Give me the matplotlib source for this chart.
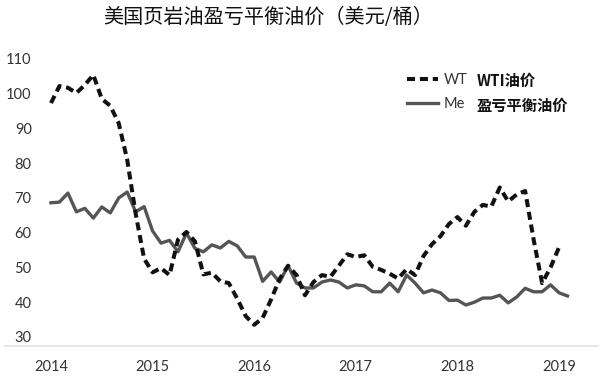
import numpy as np
import matplotlib
matplotlib.use("Agg")
import matplotlib.pyplot as plt
from matplotlib.lines import Line2D

plt.rcParams['font.family'] = ['Lato', 'Noto Sans CJK SC', 'DejaVu Sans']

# monthly values, Jan 2014 onward
wti = [97.3, 102.2, 101.7, 100.2, 102.5, 105.4, 98.5, 96.5, 91.5, 81,
       65.5, 52.5, 48.6, 49.8, 47.8, 58, 60.2, 57.5, 48, 48.5,
       46, 45.5, 41, 36, 33.5, 35.5, 40.8, 46.7, 50.5, 47.8,
       42, 45.8, 47.8, 47.3, 50.5, 53.8, 53, 53.5, 50.2, 49.3,
       48.2, 46.8, 49.5, 47.8, 53.3, 56.7, 59, 62.5, 64.5, 62,
       66, 68, 67.5, 73, 69, 71, 72, 58, 45.5, 50,
       55.8]
breakeven = [68.6, 68.8, 71.4, 66, 67, 64.2, 67.4, 65.7, 70, 71.7,
             66, 67.5, 60.5, 57, 57.8, 54.5, 59.9, 55.5, 54.5, 56.5,
             55.6, 57.5, 56.2, 53, 53, 46, 48.7, 45.8, 50.5, 45.5,
             44.1, 44.1, 45.8, 46.4, 45.8, 44.1, 45, 44.7, 43, 43,
             45.5, 43, 47.8, 45.5, 42.7, 43.5, 42.7, 40.5, 40.6, 39.2,
             40, 41.2, 41.2, 42, 39.8, 41.5, 44, 43, 43, 45,
             42.7, 41.8]
years = [2014, 2015, 2016, 2017, 2018, 2019]
yticks = [30, 40, 50, 60, 70, 80, 90, 100, 110]

x_wti = 2014 + np.arange(len(wti)) / 12
x_be = 2014 + np.arange(len(breakeven)) / 12

fig = plt.figure(figsize=(6, 3.79), dpi=100)
ax = fig.add_axes([40 / 600, 33 / 379, 555 / 600, 301 / 379])

ax.plot(x_be, breakeven, color='#555555', lw=2.4, label='Me')
ax.plot(x_wti, wti, color='#111111', lw=2.9, linestyle=(0, (2.0, 1.2)), label='WT')

ax.set_xlim(2013.892, 2019.354)
ax.set_ylim(27.4, 114)
ax.set_xticks(years)
ax.set_xticklabels([str(y) for y in years])
ax.set_yticks(yticks)
ax.tick_params(axis='both', length=0, labelsize=10.5, labelcolor='#333333')
ax.tick_params(axis='x', pad=10)
ax.tick_params(axis='y', pad=6)
for s in ['top', 'right', 'left', 'bottom']:
    ax.spines[s].set_visible(False)

# light baseline across the figure
fig.add_artist(Line2D([5 / 600, 598 / 600], [33 / 379, 33 / 379],
                      color='#e2e2e2', lw=1.2, transform=fig.transFigure))

fig.text(268 / 600, 1 - 18 / 379, '美国页岩油盈亏平衡油价（美元/桶）',
         ha='center', va='center', fontsize=14.5, fontweight='medium', color='#111111',
         family=['Noto Sans CJK SC', 'DejaVu Sans'])

handles, labels = ax.get_legend_handles_labels()
leg = ax.legend(handles[::-1], labels[::-1], loc='upper left',
                bbox_to_anchor=(407 / 600, 1 - 73 / 379), bbox_transform=fig.transFigure,
                frameon=False, fontsize=10.5, handlelength=2.1, handletextpad=0.4,
                labelspacing=0.7, borderpad=0, borderaxespad=0)
for t in leg.get_texts():
    t.set_color('#333333')

fig.text(477 / 600, 1 - 81 / 379, 'WTI油价', ha='left', va='center', fontsize=11,
         fontweight='bold', color='#111111', family=['Noto Sans CJK SC', 'DejaVu Sans'])
fig.text(477 / 600, 1 - 106 / 379, '盈亏平衡油价', ha='left', va='center', fontsize=11,
         fontweight='bold', color='#111111', family=['Noto Sans CJK SC', 'DejaVu Sans'])

fig.savefig('out.png', dpi=100)
